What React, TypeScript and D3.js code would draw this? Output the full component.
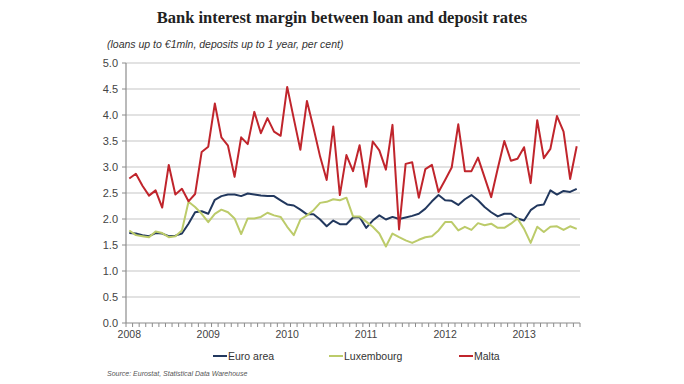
import React from "react";
import * as d3 from "d3";

const W = 684;
const H = 384;

// Monthly categories, Jan 2008 – Sep 2013
const months: string[] = [];
for (let y = 2008; y <= 2013; y++) {
  for (let m = 1; m <= 12; m++) {
    if (y === 2013 && m > 9) break;
    months.push(`${y}-${String(m).padStart(2, "0")}`);
  }
}

const yearLabels = ["2008", "2009", "2010", "2011", "2012", "2013"];
const yTicks = [0, 0.5, 1, 1.5, 2, 2.5, 3, 3.5, 4, 4.5, 5];

const euroArea = [
  1.73, 1.72, 1.69, 1.67, 1.73, 1.72, 1.67, 1.68, 1.72, 1.91, 2.13, 2.15,
  2.1, 2.37, 2.44, 2.47, 2.47, 2.44, 2.49, 2.47, 2.45, 2.44, 2.44, 2.36,
  2.28, 2.26, 2.18, 2.09, 2.09, 1.99, 1.86, 1.97, 1.9, 1.9, 2.03, 2.04,
  1.83, 1.97, 2.07, 1.99, 2.04, 2.0, 2.03, 2.06, 2.1, 2.2, 2.34, 2.46,
  2.36, 2.35, 2.27, 2.38, 2.46, 2.36, 2.23, 2.13, 2.05, 2.1, 2.1, 2.01,
  1.97, 2.17, 2.26, 2.28, 2.55, 2.47, 2.54, 2.52, 2.58,
];

const luxembourg = [
  1.78, 1.69, 1.67, 1.65, 1.76, 1.73, 1.65, 1.67, 1.78, 2.33, 2.23, 2.1,
  1.94, 2.1, 2.18, 2.13, 2.01, 1.71, 2.01, 2.01, 2.04, 2.12, 2.07, 2.04,
  1.85, 1.69, 1.99, 2.07, 2.17, 2.31, 2.33, 2.38, 2.36, 2.41, 2.05, 2.05,
  1.95, 1.85, 1.72, 1.47, 1.72, 1.65, 1.59, 1.54, 1.6, 1.65, 1.67, 1.78,
  1.94, 1.94, 1.78, 1.85, 1.79, 1.92, 1.88, 1.91, 1.83, 1.83, 1.91, 2.01,
  1.81, 1.54, 1.85, 1.75, 1.85, 1.86, 1.79, 1.86, 1.81,
];

const malta = [
  2.78, 2.87, 2.64, 2.45, 2.55, 2.22, 3.04, 2.47, 2.58, 2.34, 2.48, 3.29,
  3.39, 4.22, 3.57, 3.41, 2.81, 3.57, 3.44, 4.06, 3.65, 3.94, 3.68, 3.6,
  4.54, 3.93, 3.33, 4.27, 3.75, 3.2, 2.75, 3.78, 2.46, 3.23, 2.92, 3.42,
  2.62, 3.49, 3.32, 2.95, 3.81, 1.8, 3.06, 3.09, 2.41, 2.96, 3.04, 2.52,
  2.75, 2.99, 3.82, 2.92, 2.92, 3.18, 2.8, 2.42, 2.97, 3.5, 3.12, 3.16,
  3.38, 2.69, 3.9, 3.17, 3.35, 3.98, 3.68, 2.77, 3.4,
];

const seriesNames = ["Euro area", "Luxembourg", "Malta"];
const seriesColors = ["#22385e", "#bccb6a", "#c0252c"];
const seriesData = [euroArea, luxembourg, malta];

const margin = { left: 126, right: 580, top: 63, bottom: 323 };

export default function App() {
  const x = d3
    .scaleBand<string>()
    .domain(months)
    .range([margin.left, margin.right])
    .paddingInner(0)
    .paddingOuter(0);
  const y = d3.scaleLinear().domain([0, 5]).range([margin.bottom, margin.top]);
  const bw = x.bandwidth();
  const cx = (i: number) => (x(months[i]) as number) + bw / 2;

  const line = d3
    .line<number>()
    .x((_, i) => cx(i))
    .y((d) => y(d));

  const sans = "'Liberation Sans', Arial, sans-serif";
  const legendX = [213, 329, 459];

  return (
    <svg
      width={W}
      height={H}
      style={{ position: "absolute", left: 0, top: 0, background: "#fff" }}
      fontFamily={sans}
    >
      <rect x={0} y={0} width={W} height={H} fill="#fff" />
      <text
        x={342}
        y={23}
        textAnchor="middle"
        fontFamily="'Liberation Serif', 'Times New Roman', serif"
        fontWeight="bold"
        fontSize={16.5}
        fill="#222"
      >
        Bank interest margin between loan and deposit rates
      </text>
      <text x={107} y={48} fontSize={10.5} fontStyle="italic" fill="#333">
        (loans up to €1mln, deposits up to 1 year, per cent)
      </text>

      {/* gridlines */}
      {yTicks.map((t) =>
        t === 0 ? null : (
          <line
            key={t}
            x1={margin.left}
            x2={margin.right}
            y1={y(t)}
            y2={y(t)}
            stroke="#d9d9d9"
            strokeWidth={1.5}
          />
        )
      )}

      {/* y axis */}
      <line
        x1={margin.left}
        x2={margin.left}
        y1={margin.top}
        y2={margin.bottom}
        stroke="#8c8c8c"
        strokeWidth={1.2}
      />
      {yTicks.map((t) => (
        <g key={"yt" + t}>
          <line
            x1={margin.left - 4}
            x2={margin.left}
            y1={y(t)}
            y2={y(t)}
            stroke="#8c8c8c"
          />
          <text
            x={118}
            y={y(t)}
            dy="0.35em"
            textAnchor="end"
            fontSize={11}
            fill="#444"
          >
            {t.toFixed(1)}
          </text>
        </g>
      ))}

      {/* x axis */}
      <line
        x1={margin.left}
        x2={margin.right}
        y1={margin.bottom}
        y2={margin.bottom}
        stroke="#8c8c8c"
        strokeWidth={1.2}
      />
      {months.map((m, i) => (
        <line
          key={"xt" + m}
          x1={x(m) as number}
          x2={x(m) as number}
          y1={margin.bottom}
          y2={margin.bottom + 4}
          stroke="#8c8c8c"
        />
      ))}
      <line
        x1={margin.right}
        x2={margin.right}
        y1={margin.bottom}
        y2={margin.bottom + 4}
        stroke="#8c8c8c"
      />
      {yearLabels.map((yl) => (
        <text
          key={yl}
          x={cx(months.indexOf(`${yl}-01`))}
          y={338}
          textAnchor="middle"
          fontSize={10.5}
          fill="#444"
        >
          {yl}
        </text>
      ))}

      {/* series */}
      {seriesData.map((d, k) => (
        <path
          key={seriesNames[k]}
          d={line(d) as string}
          fill="none"
          stroke={seriesColors[k]}
          strokeWidth={2}
          strokeLinejoin="round"
        />
      ))}

      {/* legend */}
      {seriesNames.map((n, k) => (
        <g key={"lg" + n}>
          <line
            x1={legendX[k]}
            x2={legendX[k] + 14}
            y1={356}
            y2={356}
            stroke={seriesColors[k]}
            strokeWidth={2}
          />
          <text
            x={legendX[k] + 15}
            y={356}
            dy="0.35em"
            fontSize={10.5}
            fill="#333"
          >
            {n}
          </text>
        </g>
      ))}

      <text x={107} y={376} fontSize={7} fontStyle="italic" fill="#555">
        Source: Eurostat, Statistical Data Warehouse
      </text>
    </svg>
  );
}
